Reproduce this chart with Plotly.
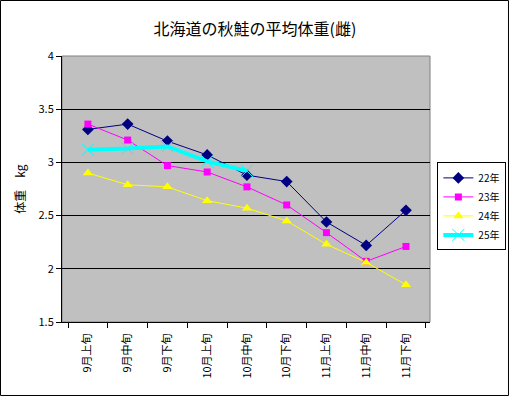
import plotly.graph_objects as go

categories = ["9月上旬", "9月中旬", "9月下旬", "10月上旬", "10月中旬", "10月下旬", "11月上旬", "11月中旬", "11月下旬"]
y22 = [3.31, 3.36, 3.20, 3.07, 2.88, 2.82, 2.44, 2.22, 2.55]
y23 = [3.36, 3.21, 2.97, 2.91, 2.77, 2.60, 2.34, 2.07, 2.21]
y24 = [2.90, 2.79, 2.77, 2.64, 2.57, 2.45, 2.23, 2.06, 1.85]
y25 = [3.12, 3.13, 3.15, 3.01, 2.92]
y_ticks = [1.5, 2, 2.5, 3, 3.5, 4]

font = "Noto Sans CJK JP"

fig = go.Figure()
fig.add_trace(go.Scatter(x=categories, y=y22, name="22年", mode="lines+markers",
                         line=dict(color="#000080", width=1),
                         marker=dict(symbol="diamond", size=9, color="#000080")))
fig.add_trace(go.Scatter(x=categories, y=y23, name="23年", mode="lines+markers",
                         line=dict(color="#FF00FF", width=1),
                         marker=dict(symbol="square", size=7, color="#FF00FF")))
fig.add_trace(go.Scatter(x=categories, y=y24, name="24年", mode="lines+markers",
                         line=dict(color="#FFFF00", width=1),
                         marker=dict(symbol="triangle-up", size=9, color="#FFFF00")))
fig.add_trace(go.Scatter(x=categories[:len(y25)], y=y25, name="25年", mode="lines+markers",
                         line=dict(color="#00FFFF", width=4),
                         marker=dict(symbol="x-thin-open", size=12, color="#00FFFF",
                                     line=dict(color="#00FFFF", width=1))))

fig.update_layout(
    width=510, height=397,
    paper_bgcolor="white", plot_bgcolor="#C0C0C0",
    margin=dict(l=62, r=80, t=56, b=75, autoexpand=False),
    font=dict(family=font, size=11, color="black"),
    title=dict(text="北海道の秋鮭の平均体重(雌)", x=0.5, xanchor="center", y=0.925, yanchor="middle",
               font=dict(family=font, size=16, color="black")),
    showlegend=True,
    legend=dict(x=1.02, y=0.6, xanchor="left", yanchor="top",
                bgcolor="white", bordercolor="black", borderwidth=1,
                font=dict(family=font, size=10), tracegroupgap=0, itemwidth=30),
    xaxis=dict(type="category", categoryorder="array", categoryarray=categories,
               tickangle=-90, showgrid=False, showline=True, linecolor="black", linewidth=1,
               ticks="outside", tickson="boundaries", ticklen=5, tickcolor="black",
               ticklabelstandoff=6, automargin=False,
               mirror=False, zeroline=False, tickfont=dict(family=font, size=11)),
    yaxis=dict(range=[1.5, 4], tickvals=y_ticks, ticktext=[str(v) for v in y_ticks],
               showgrid=True, gridcolor="black", gridwidth=1,
               showline=True, linecolor="black", linewidth=1, automargin=False,
               ticks="outside", ticklen=5, tickcolor="black", zeroline=False,
               title=dict(text="体重　kg", font=dict(family=font, size=12), standoff=10),
               tickfont=dict(family=font, size=11)),
)

# plot area border (gray) and outer chart border
fig.add_shape(type="rect", xref="paper", yref="paper", x0=0, y0=0, x1=1, y1=1,
              line=dict(color="#808080", width=1), layer="below")
fig.add_shape(type="rect", xref="paper", yref="paper", x0=-0.1671, y0=-0.2763, x1=1.2133, y1=1.2086,
              line=dict(color="black", width=1))

fig.write_html("out.html", config={"displayModeBar": False},
               post_script="document.body.style.margin='0px';")
